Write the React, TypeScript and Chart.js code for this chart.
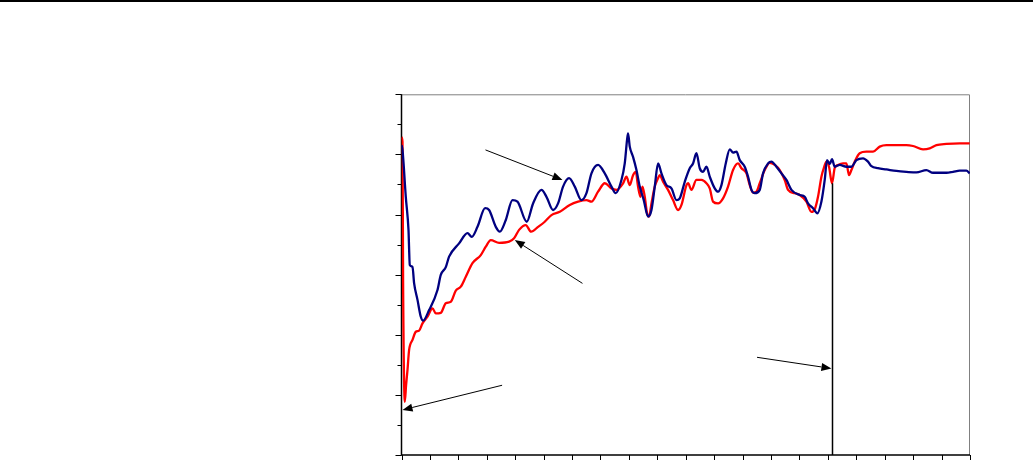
import React, { useEffect, useRef } from "react";
import { Chart, registerables } from "chart.js";

Chart.register(...registerables);

// x axis: 0..20 (20 tick intervals), y axis: 0..12
const xTicks = Array.from({ length: 21 }, (_, i) => i);
const yTicks = Array.from({ length: 13 }, (_, i) => i);

const blueX = [0, 0.035, 0.151, 0.246, 0.292, 0.387, 0.443, 0.563, 0.679, 0.76, 0.971, 1.266, 1.382, 1.558, 1.674, 2.026, 2.321, 2.473, 2.673, 2.941, 3.081, 3.317, 3.458, 3.669, 3.904, 4.08, 4.407, 4.629, 4.924, 5.1, 5.332, 5.508, 5.684, 5.895, 6.096, 6.331, 6.507, 6.683, 6.915, 7.151, 7.387, 7.538, 7.738, 7.854, 7.935, 7.97, 8.03, 8.146, 8.266, 8.382, 8.523, 8.674, 8.794, 8.91, 9.026, 9.145, 9.321, 9.497, 9.673, 9.789, 9.965, 10.141, 10.257, 10.376, 10.493, 10.609, 10.728, 10.844, 11.02, 11.136, 11.256, 11.407, 11.548, 11.664, 11.783, 11.9, 12.075, 12.191, 12.311, 12.427, 12.603, 12.719, 12.895, 13.014, 13.19, 13.366, 13.542, 13.718, 14.01, 14.186, 14.302, 14.478, 14.632, 14.773, 14.889, 14.97, 15.065, 15.146, 15.241, 15.417, 15.652, 15.828, 16.004, 16.236, 16.412, 16.532, 16.764, 17.059, 17.411, 17.763, 18.115, 18.466, 18.699, 19.17, 19.402, 19.638, 19.873, 19.989];
const blueY = [10.31, 10.15, 8.59, 7.49, 6.32, 6.26, 5.72, 5.16, 4.6, 4.47, 4.82, 5.49, 5.99, 6.25, 6.6, 7.04, 7.38, 7.26, 7.59, 8.21, 8.15, 7.59, 7.43, 7.82, 8.48, 8.43, 7.76, 8.37, 8.82, 8.59, 8.15, 8.37, 8.93, 9.21, 8.93, 8.48, 8.71, 9.37, 9.65, 9.37, 8.93, 8.71, 9.15, 9.7, 10.48, 10.7, 10.26, 9.92, 9.48, 8.93, 8.48, 7.93, 8.15, 8.93, 9.7, 9.37, 8.98, 8.87, 8.48, 8.54, 9.09, 9.54, 9.7, 10.04, 9.54, 9.42, 9.59, 9.26, 8.87, 8.76, 8.98, 9.7, 10.17, 10.06, 10.09, 9.81, 9.59, 9.26, 8.82, 8.71, 8.82, 9.37, 9.7, 9.76, 9.59, 9.37, 9.15, 8.82, 8.65, 8.59, 8.37, 8.21, 8.04, 8.43, 9.15, 9.81, 9.68, 9.84, 9.59, 9.65, 9.59, 9.59, 9.81, 9.87, 9.76, 9.61, 9.54, 9.5, 9.45, 9.42, 9.4, 9.48, 9.39, 9.39, 9.42, 9.46, 9.46, 9.37];

const redX = [0, 0.035, 0.056, 0.116, 0.162, 0.211, 0.267, 0.387, 0.503, 0.619, 0.739, 0.915, 1.09, 1.206, 1.382, 1.558, 1.734, 1.91, 2.086, 2.262, 2.497, 2.789, 2.965, 3.141, 3.433, 3.785, 3.961, 4.136, 4.372, 4.559, 4.805, 5.04, 5.276, 5.568, 5.92, 6.212, 6.507, 6.683, 6.915, 7.151, 7.387, 7.562, 7.795, 7.914, 8.03, 8.146, 8.241, 8.322, 8.407, 8.477, 8.558, 8.639, 8.709, 8.794, 8.91, 9.026, 9.086, 9.202, 9.377, 9.553, 9.729, 9.849, 10.025, 10.081, 10.201, 10.376, 10.552, 10.728, 10.844, 10.96, 11.136, 11.312, 11.488, 11.664, 11.84, 11.959, 12.135, 12.251, 12.367, 12.487, 12.603, 12.779, 12.955, 13.131, 13.306, 13.482, 13.598, 13.834, 14.01, 14.245, 14.421, 14.537, 14.653, 14.773, 14.865, 14.949, 15.04, 15.146, 15.241, 15.357, 15.533, 15.652, 15.744, 15.828, 15.944, 16.12, 16.356, 16.588, 16.824, 17.059, 17.411, 17.763, 17.995, 18.347, 18.582, 18.818, 19.17, 19.638, 19.989];
const redY = [10.57, 10.42, 5.82, 1.77, 2.33, 2.83, 3.49, 3.83, 4.1, 4.14, 4.38, 4.6, 4.88, 4.71, 4.73, 5.05, 5.1, 5.47, 5.6, 5.93, 6.38, 6.65, 6.93, 7.15, 7.06, 7.1, 7.21, 7.49, 7.65, 7.43, 7.59, 7.76, 7.98, 8.09, 8.32, 8.43, 8.48, 8.43, 8.76, 9.04, 8.87, 8.82, 9.04, 9.26, 8.98, 9.31, 9.42, 8.93, 8.59, 8.93, 8.59, 8.04, 7.93, 8.37, 8.93, 9.21, 9.31, 9.09, 8.82, 8.48, 8.15, 8.32, 8.98, 9.04, 8.82, 9.15, 9.15, 9.04, 8.87, 8.43, 8.37, 8.54, 8.93, 9.48, 9.7, 9.54, 9.37, 8.98, 8.73, 8.76, 9.04, 9.48, 9.72, 9.65, 9.48, 9.15, 8.82, 8.71, 8.65, 8.43, 8.09, 8.17, 8.59, 9.26, 9.57, 9.76, 9.59, 9.04, 9.55, 9.65, 9.7, 9.7, 9.31, 9.48, 9.76, 10.04, 10.09, 10.09, 10.26, 10.31, 10.31, 10.31, 10.28, 10.17, 10.2, 10.31, 10.35, 10.37, 10.37];

// index of the red point where the vertical drop line is placed
const dropIndex = 97;

// annotation arrows in data units: [fromX, fromY, toX, toY]
const arrows = [
  [2.955, 10.15, 5.663, 9.15],
  [6.366, 5.71, 3.985, 7.15],
  [3.539, 2.32, 0.035, 1.5],
  [12.508, 3.25, 15.125, 2.88],
];

const toPoints = (xs: number[], ys: number[]) => xs.map((x, i) => ({ x, y: ys[i] }));

const framePlugin = {
  id: "frame",
  beforeDatasetsDraw(chart: any) {
    const { ctx, chartArea: a, scales } = chart;
    const xs = scales.x;
    const ys = scales.y;
    ctx.save();
    ctx.strokeStyle = "#808080";
    ctx.lineWidth = 1;
    ctx.beginPath();
    ctx.moveTo(a.left, a.top + 0.5);
    ctx.lineTo(a.right - 0.5, a.top + 0.5);
    ctx.lineTo(a.right - 0.5, a.bottom);
    ctx.stroke();
    ctx.strokeStyle = "#000";
    ctx.lineWidth = 1.5;
    ctx.beginPath();
    ctx.moveTo(a.left, a.top);
    ctx.lineTo(a.left, a.bottom);
    ctx.lineTo(a.right, a.bottom);
    ctx.stroke();
    ctx.lineWidth = 1;
    ctx.beginPath();
    yTicks.forEach((v) => {
      const py = Math.round(ys.getPixelForValue(v)) + 0.5;
      const len = v % 2 === 0 ? 6 : 4;
      ctx.moveTo(a.left - len, py);
      ctx.lineTo(a.left, py);
    });
    xTicks.forEach((v) => {
      const px = Math.round(xs.getPixelForValue(v)) + 0.5;
      ctx.moveTo(px, a.bottom);
      ctx.lineTo(px, a.bottom + 5);
    });
    ctx.stroke();
    ctx.restore();
  },
  afterDatasetsDraw(chart: any) {
    const { ctx, chartArea: a, scales } = chart;
    const xs = scales.x;
    const ys = scales.y;
    ctx.save();
    const dx = Math.round(xs.getPixelForValue(redX[dropIndex])) + 0.5;
    ctx.strokeStyle = "#000";
    ctx.lineWidth = 1.5;
    ctx.beginPath();
    ctx.moveTo(dx, ys.getPixelForValue(redY[dropIndex]));
    ctx.lineTo(dx, a.bottom);
    ctx.stroke();
    arrows.forEach(([x1, y1, x2, y2]) => {
      const p1x = xs.getPixelForValue(x1);
      const p1y = ys.getPixelForValue(y1);
      const p2x = xs.getPixelForValue(x2);
      const p2y = ys.getPixelForValue(y2);
      const ang = Math.atan2(p2y - p1y, p2x - p1x);
      const hl = 10;
      const hw = 4;
      const bx = p2x - hl * Math.cos(ang);
      const by = p2y - hl * Math.sin(ang);
      ctx.strokeStyle = "#000";
      ctx.lineWidth = 1;
      ctx.beginPath();
      ctx.moveTo(p1x, p1y);
      ctx.lineTo(bx, by);
      ctx.stroke();
      ctx.fillStyle = "#000";
      ctx.beginPath();
      ctx.moveTo(p2x, p2y);
      ctx.lineTo(bx + hw * Math.sin(ang), by - hw * Math.cos(ang));
      ctx.lineTo(bx - hw * Math.sin(ang), by + hw * Math.cos(ang));
      ctx.closePath();
      ctx.fill();
    });
    ctx.restore();
  },
};

export default function App() {
  const ref = useRef<HTMLCanvasElement | null>(null);
  useEffect(() => {
    if (!ref.current) return;
    const chart = new Chart(ref.current, {
      type: "line",
      data: {
        datasets: [
          {
            data: toPoints(blueX, blueY),
            borderColor: "#000080",
            borderWidth: 2.3,
            pointRadius: 0,
            cubicInterpolationMode: "monotone",
            fill: false,
          },
          {
            data: toPoints(redX, redY),
            borderColor: "#FF0000",
            borderWidth: 2.3,
            pointRadius: 0,
            cubicInterpolationMode: "monotone",
            fill: false,
          },
        ],
      },
      options: {
        animation: false,
        responsive: false,
        maintainAspectRatio: false,
        events: [],
        layout: { padding: { left: 401.5, top: 94.3, right: 63, bottom: 6 } },
        plugins: { legend: { display: false }, tooltip: { enabled: false }, title: { display: false } },
        scales: {
          x: { type: "linear", min: 0, max: 20, display: false },
          y: { type: "linear", min: 0, max: 12, display: false },
        },
      },
      plugins: [framePlugin],
    } as any);
    return () => chart.destroy();
  }, []);
  return (
    <div style={{ position: "absolute", left: 0, top: 0, width: 1033, height: 461, background: "#fff" }}>
      <div style={{ position: "absolute", left: 0, top: 0, width: 1033, height: 2, background: "#000" }} />
      <canvas ref={ref} width={1033} height={461} style={{ position: "absolute", left: 0, top: 0 }} />
    </div>
  );
}
